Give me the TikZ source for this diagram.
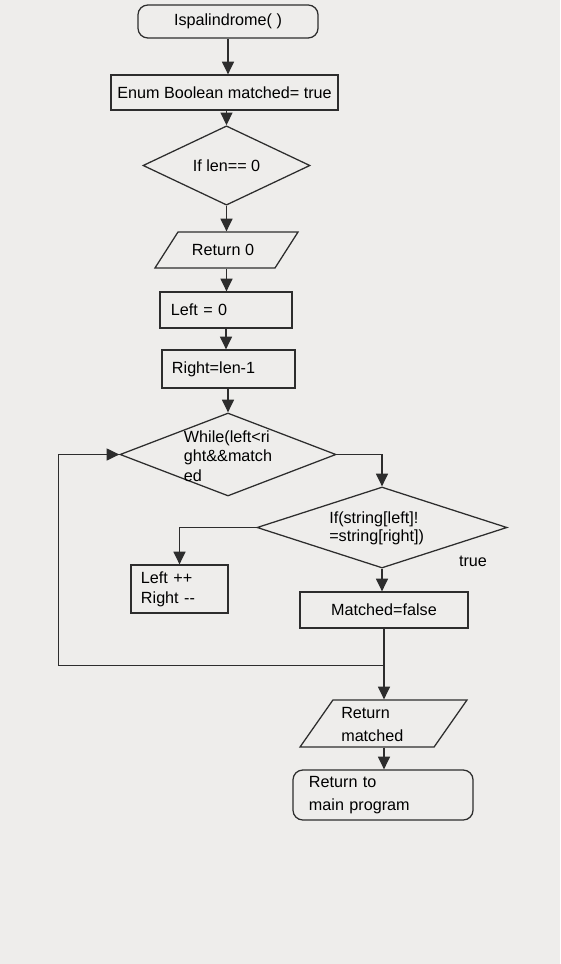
\documentclass[tikz,border=0pt]{standalone}
\usepackage{fontspec}
\setmainfont{Liberation Sans}
\usepackage{tikz}
\usetikzlibrary{shapes.geometric,arrows.meta,calc}
\definecolor{paper}{RGB}{238,237,235}
\definecolor{ink}{RGB}{45,45,45}

\begin{document}
\begin{tikzpicture}[
    x=0.025cm, y=-0.025cm,
    font=\fontsize{11.5}{14}\selectfont,
    terminal/.style={rectangle, rounded corners=7pt, draw=ink, line width=0.9pt, inner sep=0pt},
    block/.style={rectangle, draw=ink, line width=0.9pt, inner sep=0pt},
    decision/.style={diamond, draw=ink, line width=0.9pt, inner sep=0pt},
    io/.style={rectangle, xslant=#1, transform shape, draw=ink, line width=0.9pt, inner sep=0pt},
    txt/.style={inner sep=0pt, align=left},
    arrow/.style={-{Triangle[width=8.5pt,length=9pt]}, ink, line width=0.9pt},
    line/.style={ink, line width=0.9pt}
]

% paper
\fill[paper] (0,0) rectangle (560,964);
\useasboundingbox (0,0) rectangle (560,964);

% Main chain
\node[terminal, minimum width=4.5cm, minimum height=0.825cm] (start) at (228,21.5) {Ispalindrome( )};
\node[block, minimum width=5.675cm, minimum height=0.875cm] (enum) at (224.5,92.5) {Enum Boolean matched= true};
\node[decision, minimum width=4.175cm, minimum height=1.475cm] (iflen) at (226.5,165.5) {If len== 0};
\node[io=0.64, minimum width=3.0cm, minimum height=0.9cm] (ret0) at (226.5,250) {};
\node[txt] (ret0txt) at (223,250) {Return 0};
\node[block, minimum height=0.9cm, text width=2.75cm, inner xsep=0.275cm, align=left] (left0) at (226,310) {Left = 0};
\node[block, minimum height=0.95cm, text width=2.825cm, inner xsep=0.25cm, align=left] (right) at (228.5,369) {Right=len-1};

% Loop
\node[decision, minimum width=5.4cm, minimum height=2.075cm] (while) at (228,454.5) {};
\node[txt] (whiletxt) at (228,456) {While(left<ri\\ght\&\&match\\ed};
\node[decision, minimum width=6.25cm, minimum height=2.025cm] (ifstr) at (382,527.5) {};
\node[txt, anchor=west, font=\fontsize{11.5}{13}\selectfont] (ifstrtxt) at (329,528) {If(string[left]!\\=string[right])};
\node[txt] (true) at (473,561) {true};
\node[block, minimum height=1.2cm, text width=1.925cm, inner xsep=0.25cm, align=left] (lr) at (179.5,589) {Left ++\\Right {-}{-}};
\node[block, minimum width=4.2cm, minimum height=0.9cm] (mfalse) at (384,610) {Matched=false};

% Exit
\node[io=0.7, minimum width=3.35cm, minimum height=1.175cm] (retm) at (383.5,723.5) {};
\node[txt, anchor=west, font=\fontsize{11.5}{16}\selectfont] (retmtxt) at (341,724.5) {Return\\matched};
\node[terminal, minimum height=1.25cm, text width=3.7cm, inner xsep=0.4cm, align=left, font=\fontsize{11.5}{16}\selectfont] (end) at (383,795) {Return to\\main program};

% Connectors
\draw[arrow] (start) -- (start.south |- enum.north);
\draw[arrow] (iflen.north |- enum.south) -- (iflen.north);
\draw[arrow] (iflen.south) -- (iflen.south |- ret0.north);
\draw[arrow] (iflen.south |- ret0.south) -- (iflen.south |- left0.north);
\draw[arrow] (left0.south) -- (left0.south |- right.north);
\draw[arrow] (while.north |- right.south) -- (while.north);
\draw[arrow] (while.east) -| (ifstr.north);
\draw[arrow] (ifstr.west) -| (lr.north);
\draw[arrow] (ifstr.south) -- (ifstr.south |- mfalse.north);
\draw[arrow] (mfalse.south) -- (mfalse.south |- retm.north);
\coordinate (join) at ($(mfalse.south)+(0,37)$);
\coordinate (back) at ($(while.west)+(-61,0)$);
\draw[arrow] (join) -| (back) -- (while.west);
\draw[arrow] (mfalse.south |- retm.south) -- (mfalse.south |- end.north);

\end{tikzpicture}
\end{document}
